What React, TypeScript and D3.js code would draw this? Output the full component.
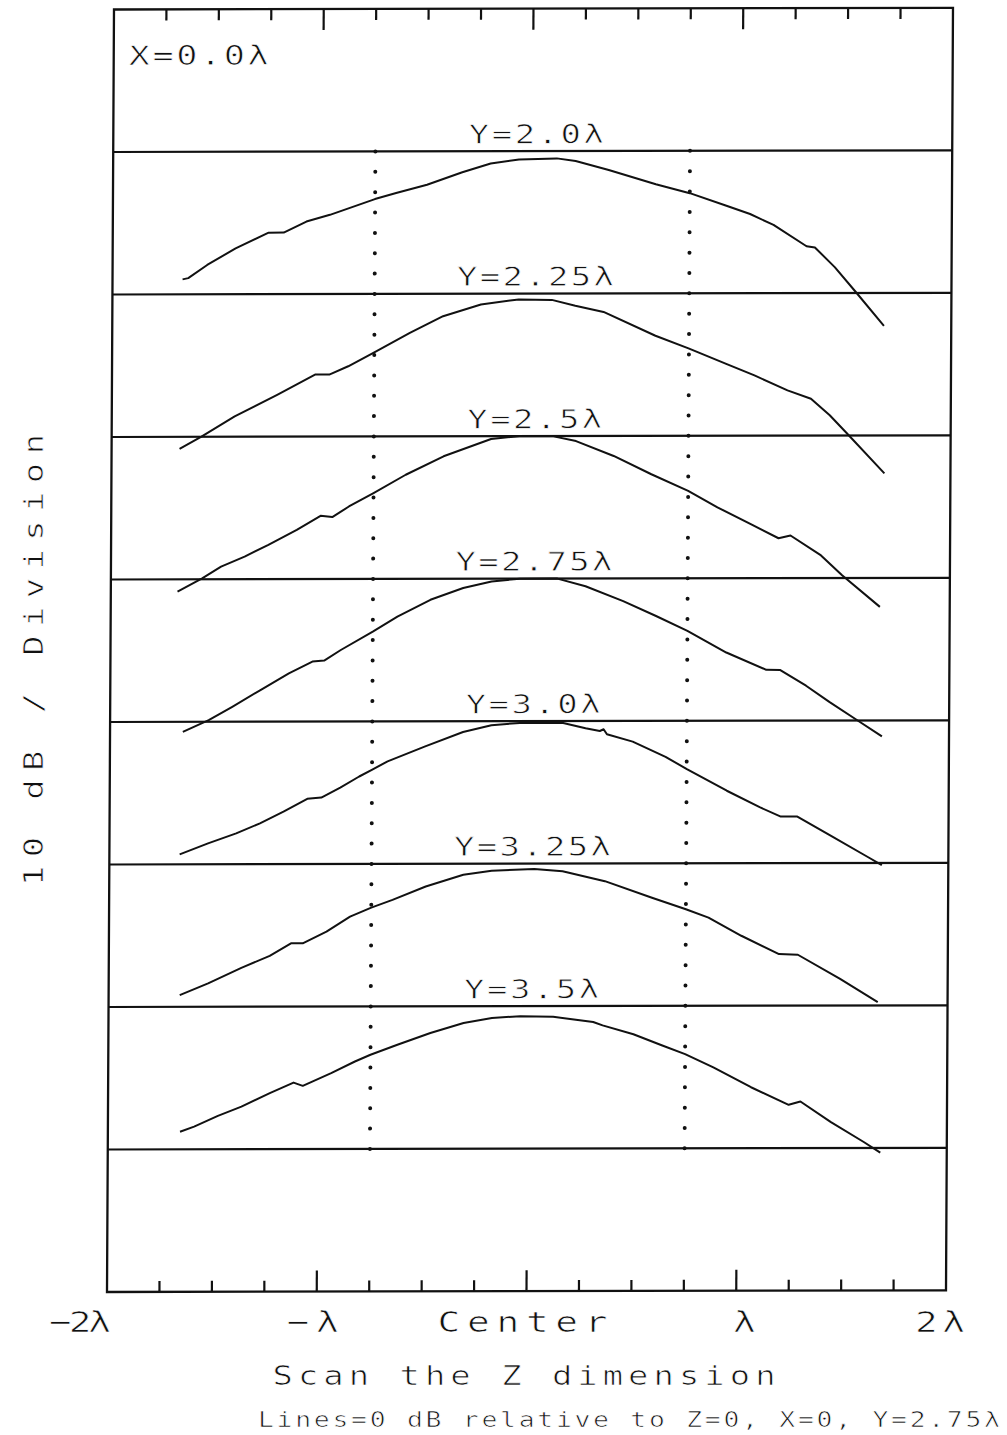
import React from "react";
import * as d3 from "d3";

// ---------- data (z in wavelengths, level in dB relative to each curve's 0 dB line) ----------
const curveLabels = ["Y=2.0λ", "Y=2.25λ", "Y=2.5λ", "Y=2.75λ", "Y=3.0λ", "Y=3.25λ", "Y=3.5λ"];

const curveY200: [number, number][] = [
  [-1.666, -8.95], [-1.639, -8.86], [-1.549, -7.94], [-1.414, -6.78], [-1.257, -5.68], [-1.185, -5.68],
  [-1.077, -4.91], [-0.965, -4.44], [-0.751, -3.34], [-0.65, -2.92], [-0.503, -2.34], [-0.335, -1.47],
  [-0.2, -0.86], [-0.065, -0.58], [0.115, -0.51], [0.205, -0.7], [0.363, -1.33], [0.588, -2.34],
  [0.75, -2.97], [0.925, -3.86], [1.038, -4.44], [1.15, -5.21], [1.308, -6.71], [1.348, -6.8],
  [1.443, -8.18], [1.544, -9.93], [1.679, -12.31],
];
const curveY225: [number, number][] = [
  [-1.676, -10.84], [-1.572, -9.98], [-1.414, -8.57], [-1.212, -7.06], [-1.032, -5.65], [-0.964, -5.65],
  [-0.874, -5.07], [-0.75, -4.09], [-0.581, -2.73], [-0.423, -1.57], [-0.243, -0.75], [-0.063, -0.4],
  [0.095, -0.44], [0.207, -0.86], [0.342, -1.29], [0.59, -2.97], [0.748, -3.86], [0.928, -4.95],
  [1.063, -5.77], [1.221, -6.82], [1.333, -7.41], [1.423, -8.57], [1.514, -9.98], [1.685, -12.66],
];
const curveY250: [number, number][] = [
  [-1.682, -10.86], [-1.565, -9.93], [-1.475, -9.11], [-1.363, -8.41], [-1.25, -7.59], [-1.115, -6.54],
  [-1.002, -5.56], [-0.946, -5.65], [-0.867, -4.91], [-0.75, -3.97], [-0.597, -2.69], [-0.417, -1.4],
  [-0.191, -0.19], [-0.056, 0], [0.101, 0], [0.214, -0.35], [0.394, -1.4], [0.574, -2.69],
  [0.75, -3.86], [0.89, -5.02], [1.047, -6.19], [1.182, -7.2], [1.239, -7.01], [1.385, -8.41],
  [1.486, -9.81], [1.667, -12.03],
];
const curveY275: [number, number][] = [
  [-1.653, -10.7], [-1.53, -9.88], [-1.418, -8.95], [-1.284, -7.78], [-1.149, -6.61], [-1.037, -5.79],
  [-0.981, -5.72], [-0.902, -4.98], [-0.75, -3.69], [-0.633, -2.64], [-0.476, -1.47], [-0.32, -0.65],
  [-0.185, -0.19], [-0.05, 0], [0.129, 0], [0.263, -0.54], [0.443, -1.59], [0.6, -2.64],
  [0.75, -3.69], [0.936, -5.21], [1.127, -6.43], [1.194, -6.45], [1.317, -7.55], [1.43, -8.71],
  [1.564, -10.0], [1.68, -11.12],
];
const curveY300: [number, number][] = [
  [-1.665, -9.3], [-1.53, -8.53], [-1.396, -7.83], [-1.283, -7.13], [-1.171, -6.31], [-1.058, -5.42],
  [-0.991, -5.33], [-0.901, -4.63], [-0.811, -3.86], [-0.751, -3.39], [-0.676, -2.8], [-0.497, -1.75],
  [-0.317, -0.75], [-0.182, -0.28], [-0.047, -0.12], [0.155, -0.12], [0.267, -0.51], [0.335, -0.7],
  [0.353, -0.58], [0.369, -0.93], [0.492, -1.45], [0.649, -2.52], [0.751, -3.39], [0.942, -4.91],
  [1.099, -6.07], [1.2, -6.73], [1.279, -6.73], [1.436, -8.06], [1.616, -9.58], [1.683, -10.16],
];
const curveY325: [number, number][] = [
  [-1.661, -9.18], [-1.526, -8.36], [-1.368, -7.27], [-1.233, -6.43], [-1.132, -5.56], [-1.076, -5.56],
  [-0.963, -4.74], [-0.851, -3.69], [-0.75, -3.06], [-0.649, -2.52], [-0.491, -1.59], [-0.312, -0.77],
  [-0.177, -0.49], [0.026, -0.37], [0.161, -0.54], [0.363, -1.24], [0.588, -2.41], [0.75, -3.22],
  [0.858, -3.81], [1.015, -5.09], [1.195, -6.38], [1.285, -6.43], [1.487, -8.13], [1.667, -9.77],
];
const curveY350: [number, number][] = [
  [-1.656, -8.76], [-1.589, -8.41], [-1.476, -7.66], [-1.364, -7.01], [-1.229, -6.07], [-1.116, -5.33],
  [-1.072, -5.56], [-0.937, -4.67], [-0.824, -3.86], [-0.75, -3.39], [-0.622, -2.69], [-0.465, -1.87],
  [-0.307, -1.17], [-0.172, -0.82], [-0.037, -0.7], [0.12, -0.75], [0.21, -0.93], [0.311, -1.12],
  [0.356, -1.36], [0.503, -1.99], [0.638, -2.76], [0.75, -3.39], [0.885, -4.32], [1.065, -5.72],
  [1.245, -6.96], [1.301, -6.73], [1.447, -8.18], [1.604, -9.58], [1.683, -10.33],
];
const curves = [curveY200, curveY225, curveY250, curveY275, curveY300, curveY325, curveY350];

const xTickValues = d3.range(-2, 2.0001, 0.25);
const xMajorValues = [-1, 0, 1];
const xLabelValues = [-2, -1, 0, 1, 2];
const xLabelTexts = ["−2λ", "−λ", "Center", "λ", "2λ"];
const markerZ = [-0.75, 0.75];
const dbPerDivision = 10;
const divisions = 9;

const FONT = "'DejaVu Sans Mono', 'Liberation Mono', monospace";
const INK = "#111";

type PTProps = {
  x: number;
  y: number;
  size: number;
  len?: number;
  anchor?: "start" | "middle" | "end";
  sx?: number;
  rotate?: number;
  children: string;
};

function PlotText({ x, y, size, len, anchor = "start", sx = 1.3, rotate = 0, children }: PTProps) {
  return (
    <text
      transform={`translate(${x},${y}) rotate(${rotate}) scale(${sx},1)`}
      x={0}
      y={0}
      fontSize={size}
      fontFamily={FONT}
      textAnchor={anchor}
      textLength={len ? len / sx : undefined}
      lengthAdjust="spacing"
      fill={INK}
      stroke="#fff"
      strokeWidth={0.7}
    >
      {children}
    </text>
  );
}

export default function App() {
  const left = 107, right = 946, top = 9.5, bottom = 1292;
  const x = d3.scaleLinear().domain([-2, 2]).range([left, right]);
  const y = d3.scaleLinear().domain([-dbPerDivision * divisions, 0]).range([bottom, top]);
  const line = d3
    .line<[number, number]>()
    .x((d) => x(d[0]))
    .y((d) => d[1]);

  const skew = `translate(${left},${bottom}) matrix(1,-0.002,-0.00545,1,0,0) translate(${-left},${-bottom})`;
  const dotGap = (y(-20) - y(-10)) / 7;

  // label horizontal nudges (layout only)
  const labelCenter = (v: number) =>
    v === -2 ? x(v) - 27 : v === 2 ? x(v) - 6 : v === 1 ? x(v) + 8 : v === -1 ? x(v) - 4 : x(v) - 4;
  const labelLen = [62, 52, 170, 20, 50];

  return (
    <svg
      width={1007}
      height={1435}
      viewBox="0 0 1007 1435"
      style={{ position: "absolute", left: 0, top: 0, background: "#fff" }}
    >
      <rect x={0} y={0} width={1007} height={1435} fill="#fff" />
      <g transform={skew} stroke={INK} fill="none">
        {/* frame */}
        <rect x={left} y={top} width={right - left} height={bottom - top} strokeWidth={2.3} />
        {/* ticks */}
        {xTickValues
          .filter((v) => v > -2 && v < 2)
          .map((v) => {
            const major = xMajorValues.includes(v);
            const len = major ? 21 : 11;
            return (
              <g key={v}>
                <line x1={x(v)} x2={x(v)} y1={top} y2={top + len} strokeWidth={2.2} />
                <line x1={x(v)} x2={x(v)} y1={bottom} y2={bottom - len} strokeWidth={2.2} />
              </g>
            );
          })}
        {/* 0 dB reference lines */}
        {curves.map((_, i) => (
          <line key={"b" + i} x1={left} x2={right} y1={y(-10 * (i + 1))} y2={y(-10 * (i + 1))} strokeWidth={2.2} />
        ))}
        <line x1={left} x2={right} y1={y(-80)} y2={y(-80)} strokeWidth={2.2} />
        {/* dotted markers */}
        {markerZ.map((z) => (
          <line
            key={"m" + z}
            x1={x(z)}
            x2={x(z)}
            y1={y(-10)}
            y2={y(-80) + 1}
            strokeWidth={4}
            strokeLinecap="round"
            strokeDasharray={`0 ${dotGap}`}
          />
        ))}
        {/* curves */}
        {curves.map((c, i) => {
          const ref = -10 * (i + 1);
          return (
            <path
              key={"c" + i}
              d={line(c.map((d) => [d[0], y(ref + d[1])]) as [number, number][]) || ""}
              strokeWidth={2}
              strokeLinejoin="round"
            />
          );
        })}
        {/* curve labels */}
        {curveLabels.map((t, i) => (
          <PlotText key={t} x={530} y={y(-10 * (i + 1)) - 8} size={26} anchor="middle" len={t.length === 6 ? 135 : 157}>
            {t}
          </PlotText>
        ))}
        <PlotText x={122} y={65} size={27} len={140}>
          X=0.0λ
        </PlotText>
      </g>
      {/* axis labels */}
      {xLabelValues.map((v, i) => (
        <PlotText
          key={"l" + v}
          x={labelCenter(v)}
          y={1332}
          size={29}
          anchor="middle"
          len={xLabelTexts[i].length > 1 ? labelLen[i] : undefined}
        >
          {xLabelTexts[i]}
        </PlotText>
      ))}
      <PlotText x={524} y={1385} size={26} anchor="middle" len={503}>
        Scan the Z dimension
      </PlotText>
      <PlotText x={258} y={1427} size={22} len={742} sx={1.2}>
        Lines=0 dB relative to Z=0, X=0, Y=2.75λ
      </PlotText>
      <PlotText x={43} y={660} size={26} anchor="middle" len={452} rotate={-90}>
        10 dB / Division
      </PlotText>
    </svg>
  );
}
